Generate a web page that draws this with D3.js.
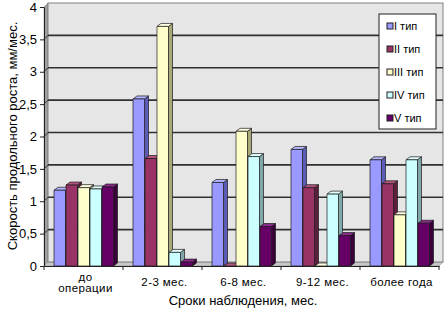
<!DOCTYPE html>
<html>
<head>
<meta charset="utf-8">
<script src="https://cdn.jsdelivr.net/npm/d3@7"></script>
<style>
  html, body { margin: 0; padding: 0; background: #fff; }
  svg text { font-family: "Liberation Sans", Arial, sans-serif; fill: #000; }
</style>
</head>
<body>
<div id="chart"></div>
<script>
var categories = [["до", "операции"], ["2-3 мес."], ["6-8 мес."], ["9-12 мес."], ["более года"]];
var seriesNames = ["I тип", "II тип", "III тип", "IV тип", "V тип"];
var typeI   = [1.17, 2.58, 1.29, 1.80, 1.64];
var typeII  = [1.25, 1.66, 0.00, 1.21, 1.27];
var typeIII = [1.21, 3.70, 2.08, 0.00, 0.79];
var typeIV  = [1.19, 0.21, 1.69, 1.11, 1.64];
var typeV   = [1.22, 0.06, 0.61, 0.47, 0.66];
var yTicks  = [0, 0.5, 1, 1.5, 2, 2.5, 3, 3.5, 4];

var series = [typeI, typeII, typeIII, typeIV, typeV];
var fronts = ["#9999ff", "#993366", "#ffffcc", "#ccffff", "#660066"];
var sides  = ["#5c5cb8", "#5c1e3d", "#a8a878", "#80a8a8", "#3a003a"];
var tops   = ["#b4b4ff", "#b35580", "#ffffe0", "#e0ffff", "#8a2a8a"];

var W = 444, H = 310;
var X0 = 44, X1 = 439, Y0 = 266, Y1 = 7;
var DX = 4, DY = -4;       // wall depth offset
var BDX = 4, BDY = -3;     // bar depth offset

var svg = d3.select("#chart").append("svg").attr("width", W).attr("height", H);

var x = d3.scaleBand().domain(d3.range(categories.length)).range([X0, X1]);
var y = d3.scaleLinear().domain([0, 4]).range([Y0, Y1]);
var inner = d3.scaleBand().domain(d3.range(seriesNames.length)).range([10, 70]);

// side wall, floor, back wall
svg.append("polygon")
    .attr("points", [[X0, Y0], [X0 + DX, Y0 + DY], [X0 + DX, Y1 + DY], [X0, Y1]].join(" "))
    .attr("fill", "#a0a0a0").attr("stroke", "#808080").attr("stroke-width", 0.5);
svg.append("polygon")
    .attr("points", [[X0, Y0], [X0 + DX, Y0 + DY], [X1 + DX, Y0 + DY], [X1, Y0]].join(" "))
    .attr("fill", "#c8c8c8").attr("stroke", "#808080").attr("stroke-width", 0.5);
svg.append("rect")
    .attr("x", X0 + DX).attr("y", Y1 + DY)
    .attr("width", X1 - X0).attr("height", Y0 - Y1)
    .attr("fill", "#e6e6e6").attr("stroke", "#808080").attr("stroke-width", 1);

// gridlines on the back wall
var gridVals = yTicks.filter(function (v) { return v > 0 && v < 4; });
svg.append("g").selectAll("line")
    .data(gridVals)
    .enter().append("line")
    .attr("x1", X0 + DX).attr("x2", X1 + DX)
    .attr("y1", function (v) { return y(v) + DY; })
    .attr("y2", function (v) { return y(v) + DY; })
    .attr("stroke", "#303030").attr("stroke-width", 1.6);
svg.append("g").selectAll("line")
    .data(gridVals)
    .enter().append("line")
    .attr("x1", X0).attr("x2", X0 + DX)
    .attr("y1", function (v) { return y(v); })
    .attr("y2", function (v) { return y(v) + DY; })
    .attr("stroke", "#303030").attr("stroke-width", 1);

// bars
var bars = svg.append("g");
categories.forEach(function (c, ci) {
    series.forEach(function (vals, si) {
        var v  = vals[ci];
        var bx = x(ci) + inner(si);
        var bw = inner.bandwidth() - 0.5;
        var by = y(v);
        var g  = bars.append("g").attr("stroke", "#1a1a1a").attr("stroke-width", 0.7)
            .attr("stroke-linejoin", "round");
        g.append("polygon")
            .attr("points", [[bx + bw, by], [bx + bw + BDX, by + BDY], [bx + bw + BDX, Y0 + BDY], [bx + bw, Y0]].join(" "))
            .attr("fill", sides[si]);
        g.append("polygon")
            .attr("points", [[bx, by], [bx + BDX, by + BDY], [bx + bw + BDX, by + BDY], [bx + bw, by]].join(" "))
            .attr("fill", tops[si]);
        if (Y0 - by > 0) {
            g.append("rect")
                .attr("x", bx).attr("y", by)
                .attr("width", bw).attr("height", Y0 - by)
                .attr("fill", fronts[si]);
        }
    });
});

// axes
var yAxis = svg.append("g")
    .attr("transform", "translate(" + X0 + ",0)")
    .call(d3.axisLeft(y).tickValues(yTicks).tickSize(4).tickSizeOuter(0)
        .tickFormat(function (v) { return String(v).replace(".", ","); }));
yAxis.selectAll("text").style("font-size", "13px").attr("x", -7);
yAxis.selectAll("path, line").attr("stroke", "#202020");

var xAxis = svg.append("g")
    .attr("transform", "translate(0," + Y0 + ")")
    .call(d3.axisBottom(x).tickSize(0).tickFormat(""));
xAxis.select("path").attr("stroke", "#202020");
xAxis.selectAll(".tick").remove();
svg.append("g").selectAll("line")
    .data(d3.range(categories.length + 1))
    .enter().append("line")
    .attr("x1", function (i) { return X0 + i * x.bandwidth(); })
    .attr("x2", function (i) { return X0 + i * x.bandwidth(); })
    .attr("y1", Y0).attr("y2", Y0 + 4)
    .attr("stroke", "#202020");

// category labels
categories.forEach(function (lines, ci) {
    var t = svg.append("text")
        .attr("text-anchor", "middle")
        .style("font-size", "11.5px")
        .style("letter-spacing", "0.4px");
    var cx = x(ci) + x.bandwidth() / 2 + 2;
    var startY = lines.length === 1 ? 286 : 281;
    lines.forEach(function (l, li) {
        t.append("tspan").attr("x", cx).attr("y", startY + li * 11).text(l);
    });
});

// axis titles
svg.append("text")
    .attr("x", 243).attr("y", 305)
    .attr("text-anchor", "middle")
    .style("font-size", "13px")
    .text("Сроки наблюдения, мес.");
svg.append("text")
    .attr("transform", "rotate(-90)")
    .attr("x", -136).attr("y", 17)
    .attr("text-anchor", "middle")
    .style("font-size", "13px")
    .text("Скорость продольного роста, мм/мес.");

// legend
var legend = svg.append("g").attr("transform", "translate(379,14)");
legend.append("rect")
    .attr("width", 57).attr("height", 115)
    .attr("fill", "#fff").attr("stroke", "#202020").attr("stroke-width", 1);
seriesNames.forEach(function (name, i) {
    var ly = 12 + i * 23;
    legend.append("rect")
        .attr("x", 8).attr("y", ly - 3)
        .attr("width", 6).attr("height", 6)
        .attr("fill", fronts[i]).attr("stroke", "#202020").attr("stroke-width", 1);
    legend.append("text")
        .attr("x", 15).attr("y", ly + 4)
        .style("font-size", "11px")
        .text(name);
});
</script>
</body>
</html>
